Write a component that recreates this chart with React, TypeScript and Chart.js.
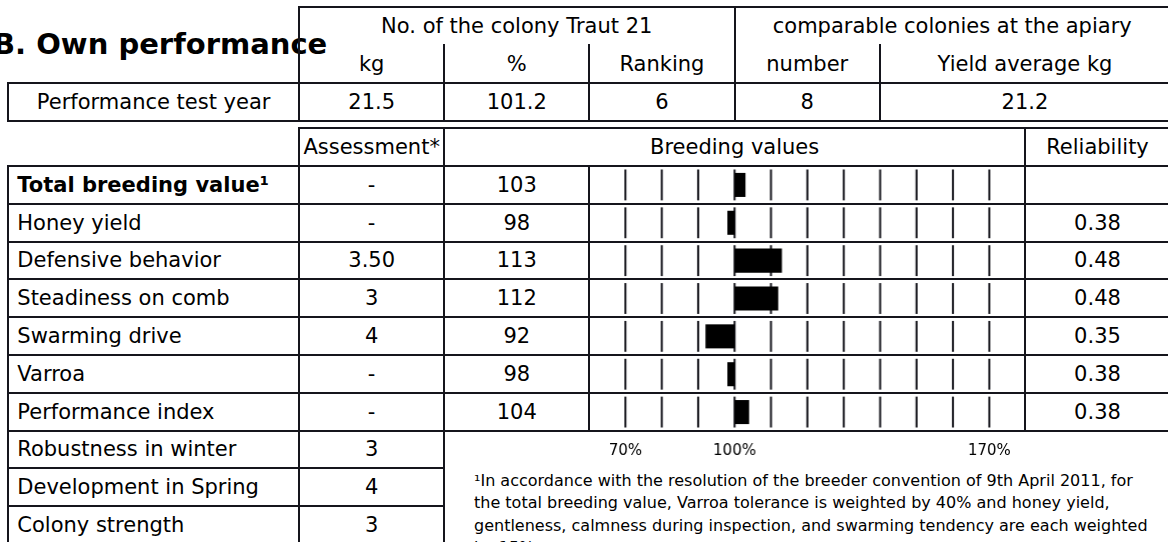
import React, { useEffect, useRef } from 'react';
import { Chart, registerables } from 'chart.js';

Chart.register(...registerables);

// ---------------- data ----------------
const title = 'B. Own performance';
const colonyHeader = 'No. of the colony Traut 21';
const apiaryHeader = 'comparable colonies at the apiary';
const subHeaders = ['kg', '%', 'Ranking', 'number', 'Yield average kg'];
const testYearLabel = 'Performance test year';
const testYearValues = ['21.5', '101.2', '6', '8', '21.2'];

const lowerHeaders = ['Assessment*', 'Breeding values', 'Reliability'];
const traits = [
  'Total breeding value¹',
  'Honey yield',
  'Defensive behavior',
  'Steadiness on comb',
  'Swarming drive',
  'Varroa',
  'Performance index',
];
const assessments = ['-', '-', '3.50', '3', '4', '-', '-'];
const breedingValues = [103, 98, 113, 112, 92, 98, 104];
const reliability = ['', '0.38', '0.48', '0.48', '0.35', '0.38', '0.38'];

const extraTraits = ['Robustness in winter', 'Development in Spring', 'Colony strength'];
const extraAssessments = ['3', '4', '3'];

const axisMin = 60;
const axisMax = 180;
const axisStep = 10;
const baseValue = 100;
const labelledTicks = [70, 100, 170];

const footnote =
  '¹In accordance with the resolution of the breeder convention of 9th April 2011, for the total breeding value, Varroa tolerance is weighted by 40% and honey yield, gentleness, calmness during inspection, and swarming tendency are each weighted by 15%.';

// ---------------- layout ----------------
const FONT = '"DejaVu Sans", sans-serif';
const LINE = '#15151c';
const LW = 2;

const X0 = 8.3;
const X1 = 299;
const X2 = 444.3;
const X3 = 589.3;
const X4 = 734.5;
const X5 = 880;
const X6 = 1025;
const X7 = 1170;

const T0 = 7.3;
const T1 = 45;
const T2 = 82.7;
const T3 = 120.7;
const L0 = 128.3;
const R0 = 166;
const RH = 37.8;

const rowY = (k: number) => R0 + k * RH;

function HL({ x1, x2, y }: { x1: number; x2: number; y: number }) {
  return (
    <div
      style={{
        position: 'absolute',
        left: x1 - LW / 2,
        top: y - LW / 2,
        width: x2 - x1 + LW,
        height: LW,
        background: LINE,
      }}
    />
  );
}

function VL({ x, y1, y2 }: { x: number; y1: number; y2: number }) {
  return (
    <div
      style={{
        position: 'absolute',
        left: x - LW / 2,
        top: y1 - LW / 2,
        width: LW,
        height: y2 - y1 + LW,
        background: LINE,
      }}
    />
  );
}

function Cell({
  x1,
  x2,
  y1,
  y2,
  text,
  left = false,
  bold = false,
}: {
  x1: number;
  x2: number;
  y1: number;
  y2: number;
  text: string;
  left?: boolean;
  bold?: boolean;
}) {
  return (
    <div
      style={{
        position: 'absolute',
        left: x1,
        top: y1,
        width: x2 - x1,
        height: y2 - y1,
        display: 'flex',
        alignItems: 'center',
        justifyContent: left ? 'flex-start' : 'center',
        paddingLeft: left ? 9 : 0,
        boxSizing: 'border-box',
        fontWeight: bold ? 'bold' : 'normal',
        whiteSpace: 'nowrap',
        fontSize: 21,
        color: '#000',
      }}
    >
      {text}
    </div>
  );
}

const rowGridPlugin = {
  id: 'rowGrid',
  beforeDatasetsDraw(chart: any) {
    const { ctx, scales } = chart;
    const x = scales.x;
    const y = scales.y;
    const n = chart.data.labels.length;
    const half = (y.getPixelForValue(1) - y.getPixelForValue(0)) / 2;
    ctx.save();
    ctx.strokeStyle = LINE;
    ctx.lineWidth = LW;
    for (let i = 0; i < n; i++) {
      const c = y.getPixelForValue(i);
      for (const t of x.ticks) {
        if (t.value <= axisMin || t.value >= axisMax) continue;
        const px = x.getPixelForValue(t.value);
        ctx.beginPath();
        ctx.moveTo(px, c - half + 3.5);
        ctx.lineTo(px, c + half - 3.5);
        ctx.stroke();
      }
    }
    ctx.restore();
  },
};

function BarsChart() {
  const ref = useRef<HTMLCanvasElement>(null);
  useEffect(() => {
    if (!ref.current) return;
    const chart = new Chart(ref.current, {
      type: 'bar',
      data: {
        labels: traits,
        datasets: [
          {
            data: breedingValues.map((v) => [baseValue, v]) as any,
            backgroundColor: '#000',
            borderWidth: 0,
            barPercentage: 0.635,
            categoryPercentage: 1,
          },
        ],
      },
      options: {
        indexAxis: 'y',
        animation: false,
        responsive: true,
        maintainAspectRatio: false,
        layout: { padding: 0, autoPadding: false },
        plugins: { legend: { display: false }, tooltip: { enabled: false } },
        scales: {
          x: {
            type: 'linear',
            position: 'bottom',
            min: axisMin,
            max: axisMax,
            grid: { display: false },
            border: { display: false },
            afterFit: (scale: any) => {
              scale.height = 35;
              scale.paddingLeft = 0;
              scale.paddingRight = 0;
            },
            ticks: {
              stepSize: axisStep,
              autoSkip: false,
              maxRotation: 0,
              padding: 3,
              color: '#000',
              font: { family: FONT, size: 15 },
              callback: (v: any) => (labelledTicks.includes(Number(v)) ? `${v}%` : ''),
            },
          },
          y: {
            type: 'category',
            display: false,
          },
        },
      },
      plugins: [rowGridPlugin],
    });
    return () => chart.destroy();
  }, []);
  return (
    <div style={{ position: 'absolute', left: X3, top: R0, width: X6 - X3, height: 300 }}>
      <canvas ref={ref} />
    </div>
  );
}

export default function App() {
  const topCols = [X1, X2, X3, X4, X5, X7];
  const nRows = traits.length;
  const bottomBars = rowY(nRows);
  return (
    <div
      style={{
        position: 'absolute',
        left: 0,
        top: 0,
        width: 1168,
        height: 542,
        overflow: 'hidden',
        background: '#fff',
        fontFamily: FONT,
        color: '#000',
      }}
    >
      {/* title */}
      <div
        style={{
          position: 'absolute',
          left: -7,
          top: 27,
          fontSize: 29,
          fontWeight: 'bold',
          whiteSpace: 'nowrap',
        }}
      >
        {title}
      </div>

      {/* top table lines */}
      <HL x1={X1} x2={X7} y={T0} />
      <HL x1={X0} x2={X7} y={T2} />
      <HL x1={X0} x2={X7} y={T3} />
      <VL x={X0} y1={T2} y2={T3} />
      <VL x={X1} y1={T0} y2={T3} />
      <VL x={X2} y1={T1} y2={T3} />
      <VL x={X3} y1={T1} y2={T3} />
      <VL x={X4} y1={T0} y2={T3} />
      <VL x={X5} y1={T1} y2={T3} />
      <VL x={X7} y1={T0} y2={T3} />

      <Cell x1={X1} x2={X4} y1={T0} y2={T1} text={colonyHeader} />
      <Cell x1={X4} x2={X7} y1={T0} y2={T1} text={apiaryHeader} />
      {subHeaders.map((h, i) => (
        <Cell key={'sh' + i} x1={topCols[i]} x2={topCols[i + 1]} y1={T1} y2={T2} text={h} />
      ))}
      <Cell x1={X0} x2={X1} y1={T2} y2={T3} text={testYearLabel} />
      {testYearValues.map((v, i) => (
        <Cell key={'tv' + i} x1={topCols[i]} x2={topCols[i + 1]} y1={T2} y2={T3} text={v} />
      ))}

      {/* lower table header */}
      <HL x1={X1} x2={X7} y={L0} />
      <VL x={X1} y1={L0} y2={R0} />
      <VL x={X2} y1={L0} y2={R0} />
      <VL x={X6} y1={L0} y2={R0} />
      <VL x={X7} y1={L0} y2={R0} />
      <Cell x1={X1} x2={X2} y1={L0} y2={R0} text={lowerHeaders[0]} />
      <Cell x1={X2} x2={X6} y1={L0} y2={R0} text={lowerHeaders[1]} />
      <Cell x1={X6} x2={X7} y1={L0} y2={R0} text={lowerHeaders[2]} />

      {/* lower table rows with bars */}
      {Array.from({ length: nRows + 1 }, (_, k) => (
        <HL key={'rl' + k} x1={X0} x2={X7} y={rowY(k)} />
      ))}
      {extraTraits.map((_, k) => (
        <HL key={'el' + k} x1={X0} x2={X2} y={rowY(nRows + 1 + k)} />
      ))}
      <VL x={X0} y1={R0} y2={560} />
      <VL x={X1} y1={R0} y2={560} />
      <VL x={X2} y1={R0} y2={560} />
      <VL x={X3} y1={R0} y2={bottomBars} />
      <VL x={X6} y1={R0} y2={bottomBars} />
      <VL x={X7} y1={R0} y2={bottomBars} />

      {traits.map((t, i) => (
        <React.Fragment key={'tr' + i}>
          <Cell x1={X0} x2={X1} y1={rowY(i)} y2={rowY(i + 1)} text={t} left bold={i === 0} />
          <Cell x1={X1} x2={X2} y1={rowY(i)} y2={rowY(i + 1)} text={assessments[i]} />
          <Cell x1={X2} x2={X3} y1={rowY(i)} y2={rowY(i + 1)} text={String(breedingValues[i])} />
          <Cell x1={X6} x2={X7} y1={rowY(i)} y2={rowY(i + 1)} text={reliability[i]} />
        </React.Fragment>
      ))}
      {extraTraits.map((t, k) => (
        <React.Fragment key={'ex' + k}>
          <Cell x1={X0} x2={X1} y1={rowY(nRows + k)} y2={rowY(nRows + k + 1)} text={t} left />
          <Cell x1={X1} x2={X2} y1={rowY(nRows + k)} y2={rowY(nRows + k + 1)} text={extraAssessments[k]} />
        </React.Fragment>
      ))}

      <BarsChart />

      {/* footnote */}
      <div
        style={{
          position: 'absolute',
          left: 474,
          top: 469.5,
          width: 681,
          fontSize: 16,
          lineHeight: '22.5px',
        }}
      >
        {footnote}
      </div>
    </div>
  );
}
